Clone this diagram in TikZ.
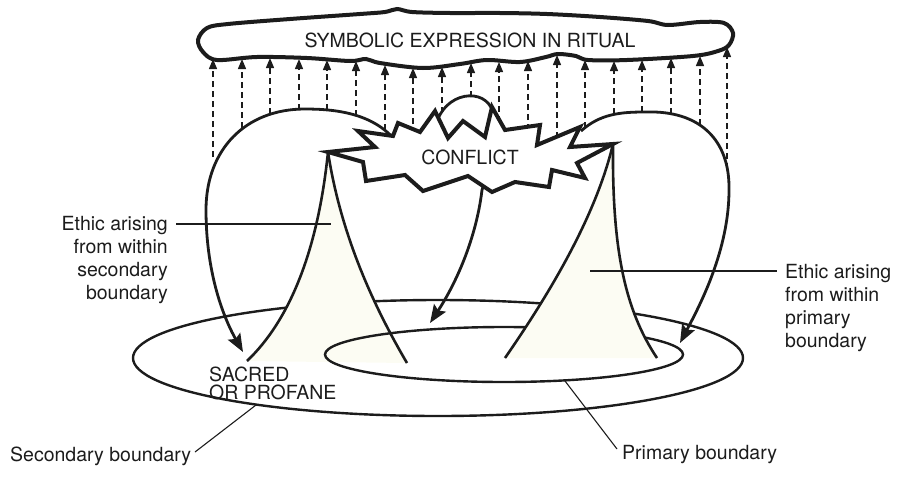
\documentclass[tikz,border=0pt]{standalone}
\usepackage{fontspec}
\setmainfont{TeX Gyre Heros}
\usetikzlibrary{arrows.meta}
\definecolor{cream}{RGB}{252,252,243}
\definecolor{ink}{RGB}{28,28,28}
\begin{document}
\begin{tikzpicture}[x=1pt,y=-1pt,
  lbl/.style={font=\fontsize{19.5}{23}\selectfont, inner sep=0pt, text=ink},
  bline/.style={line width=2.4pt, draw=ink},
  coneline/.style={line width=2.6pt, draw=ink},
  dasharrow/.style={line width=1.3pt, draw=ink, dash pattern=on 6pt off 4pt, -{Triangle[length=10pt,width=8pt]}},
  bigarrow/.style={line width=2.8pt, draw=ink, -{Stealth[length=18pt,width=14pt,inset=3pt]}},
  starline/.style={line width=4pt, draw=ink, fill=white, line join=miter},
  cloudline/.style={line width=4pt, draw=ink, fill=white},
  leader/.style={line width=1.1pt, draw=ink}]
\useasboundingbox (0,0) rectangle (899,477);

% outer ellipse (secondary boundary)
\draw[bline] (438,358) ellipse [x radius=305pt, y radius=58pt];
% left cone fill
\fill[cream] (328,152) .. controls (318,250) and (290,320) .. (247,361) -- (407,363) .. controls (370,300) and (340,230) .. (328,152) -- cycle;
% inner ellipse (primary boundary)
\draw[bline] (504,354.5) ellipse [x radius=179pt, y radius=27.5pt];
% right cone fill
\fill[cream] (613,144) .. controls (595,220) and (545,300) .. (505,358) -- (657,358) .. controls (625,310) and (612,250) .. (613,144) -- cycle;
% cone edges
\draw[coneline] (328,152) .. controls (318,250) and (290,320) .. (247,361);
\draw[coneline] (328,152) .. controls (340,230) and (370,300) .. (407,363);
\draw[coneline] (613,144) .. controls (595,220) and (545,300) .. (505,358);
\draw[coneline] (613,144) .. controls (612,250) and (625,310) .. (657,358);

% dashed arrows up to the ritual cloud
\foreach \x/\yb/\yt in {213/157/59, 242/128/59, 270/114/58, 299/110/59, 327/110/60, 356/116/61, 385/130/65, 413/134/68, 442/113/67, 471/97/63, 499/122/62, 528/130/61, 557/138/55, 585/128/60, 614/114/61, 642/112/60, 671/114/58, 700/125/56, 727/169/47}{
  \coordinate (db\x) at (\x,\yb);
  \coordinate (dt\x) at (\x,\yt);
  \draw[dasharrow] (db\x) -- (dt\x);
}

% big curved arrows
\draw[bigarrow] (395,140) .. controls (372,113) and (335,109) .. (305,109) .. controls (245,109) and (206,150) .. (206,210) .. controls (206,270) and (222,315) .. (243,352);
\draw[bigarrow] (581,131) .. controls (600,114) and (620,112) .. (645,112) .. controls (700,110) and (730,140) .. (729,190) .. controls (729,250) and (700,305) .. (680,343);
\draw[bigarrow] (436,125) .. controls (444,92) and (485,86) .. (493,112) .. controls (501,138) and (488,170) .. (482,190) .. controls (476,240) and (455,285) .. (430,323);

% conflict star
\draw[starline] (328,152) -- (375,147) -- (358,131) -- (393,136) -- (398,123) -- (420,132) -- (435,111) -- (448,138) -- (463,121) -- (485,137) -- (492,107) -- (505,130) -- (540,125) -- (537,145) -- (580,127) -- (570,147) -- (613,144) -- (577,163) -- (585,178) -- (552,170) -- (549,187) -- (515,182) -- (492,192) -- (468,176) -- (423,191) -- (405,175) -- (366,181) -- (363,162) -- cycle;
\node[lbl] (conflict) at (470,157) {CONFLICT};

% ritual cloud
\draw[cloudline] plot[smooth cycle, tension=0.55] coordinates {(198,40) (207,28) (228,24) (290,19) (360,14) (385,12) (397,9) (412,12) (450,13) (500,13) (547,14) (600,17) (648,21) (668,25) (700,22) (724,23) (733,33) (729,45) (718,51) (693,56) (627,60) (588,60) (576,56) (558,54) (546,57) (520,62) (487,60) (460,64) (423,68) (380,63) (366,59) (350,61) (307,58) (257,57) (217,60) (203,52)};
\node[lbl] (ritual) at (470,40) {SYMBOLIC EXPRESSION IN RITUAL};

% labels
\node[lbl, align=right, anchor=east] (ethsec) at (168,260) {Ethic arising\\from within\\secondary\\boundary};
\node[lbl, align=left, anchor=west] (ethpri) at (785,308) {Ethic arising\\from within\\primary\\boundary};
\node[lbl, align=left, anchor=west, font=\fontsize{19.5}{18}\selectfont] (sacred) at (209,383) {SACRED\\OR PROFANE};
\node[lbl, anchor=west] (secb) at (10,456) {Secondary boundary};
\node[lbl, anchor=west] (prib) at (622,455) {Primary boundary};

% leader lines
\coordinate (ls1) at (176,224); \coordinate (ls2) at (331,224);
\draw[leader] (ls1) -- (ls2);
\coordinate (lp1) at (590,271); \coordinate (lp2) at (777,271);
\draw[leader] (lp1) -- (lp2);
\coordinate (lsb1) at (256,405); \coordinate (lsb2) at (195,452);
\draw[leader] (lsb1) -- (lsb2);
\coordinate (lpb1) at (565,381); \coordinate (lpb2) at (617,449);
\draw[leader] (lpb1) -- (lpb2);
\end{tikzpicture}
\end{document}
